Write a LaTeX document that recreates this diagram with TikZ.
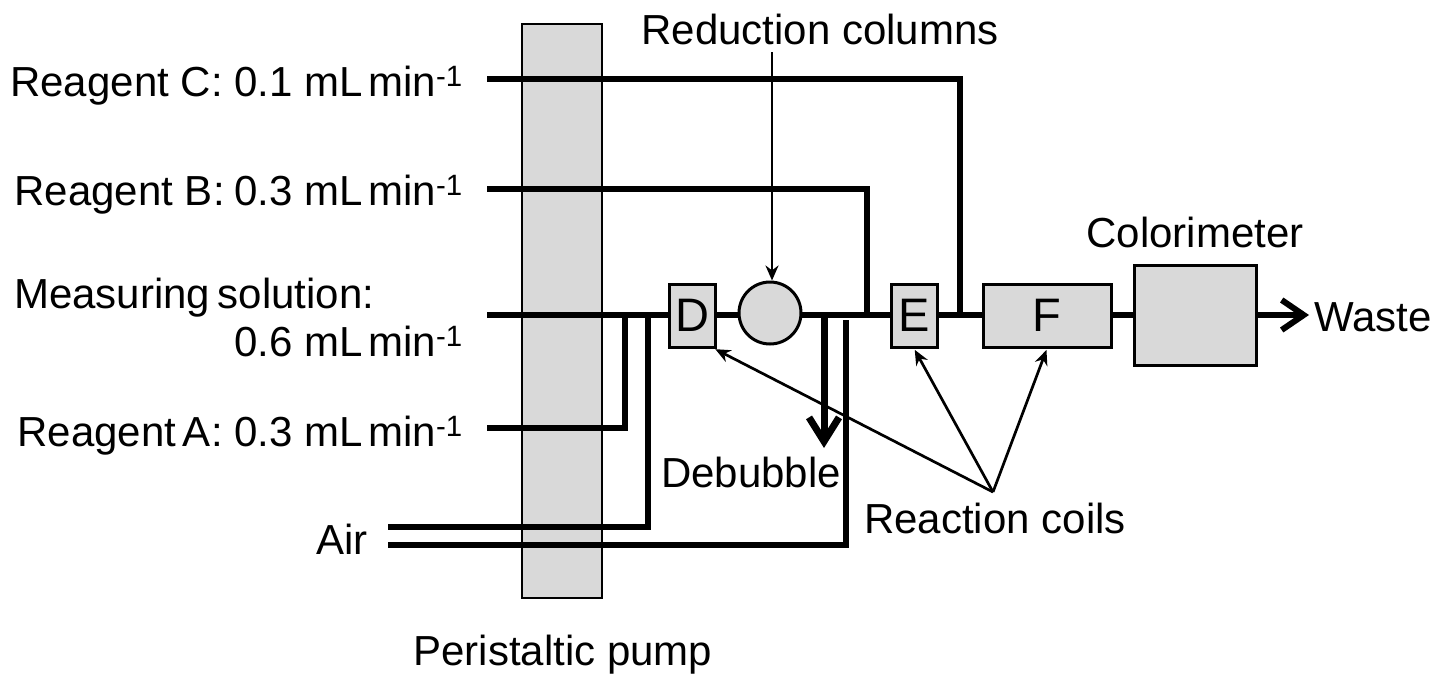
\documentclass[tikz,border=0pt]{standalone}
\usepackage{fontspec}
\setmainfont{Liberation Sans}
\usetikzlibrary{arrows.meta}
\definecolor{boxg}{RGB}{217,217,217}
\newcommand{\mlmin}[1]{#1 mL\hspace{-6pt} min\textsuperscript{-1}}
\tikzset{
  px/.style={x=1pt,y=-1pt},
  pipe/.style={line width=6pt,black},
  thin arrow/.style={line width=2.7pt,shorten >=1.5pt,-{Stealth[length=15pt,width=13pt]}},
  unit/.style={draw=black,line width=3pt,fill=boxg,inner sep=0pt,font=\fontsize{47}{47}\selectfont},
  lbl/.style={font=\fontsize{42}{44}\selectfont,inner sep=0pt,text=black},
  ll/.style={lbl,anchor=base east},
}
\begin{document}
\begin{tikzpicture}[px]
\useasboundingbox (0,0) rectangle (1437,673);
\node[draw=black,line width=2pt,fill=boxg,minimum width=80pt,minimum height=574pt,inner sep=0pt] (pump) at (562,311) {};
\node[lbl,anchor=base] (pl) at (563,665) {Peristaltic pump};
\coordinate (cS) at (487,79);
\coordinate (bS) at (487,189);
\coordinate (mS) at (487,315);
\coordinate (aS) at (487,428);
\coordinate (x1) at (388,527);
\coordinate (x2) at (388,545);
\coordinate (cJ) at (960,79);
\coordinate (bJ) at (867,189);
\coordinate (aJ) at (625,428);
\coordinate (x1J) at (648,527);
\coordinate (x2J) at (846,545);
\coordinate (x2E) at (846,320);
\draw[pipe] (mS) -- (1256,315);
\draw[pipe] (cS) -- (cJ) -- (960,315);
\draw[pipe] (bS) -- (bJ) -- (867,315);
\draw[pipe] (aS) -- (aJ) -- (625,315);
\draw[pipe] (x1) -- (x1J) -- (648,315);
\draw[pipe] (x2) -- (x2J) -- (x2E);
\draw[pipe,-{Straight Barb[length=22pt,width=30pt,line width=6pt]}] (1256,315) -- (1309,315);
\draw[line width=7pt,-{Straight Barb[length=24pt,width=30pt,line width=7pt]}] (824,315) -- (824,448);
\node[unit,minimum width=46pt,minimum height=63pt] (D) at (692.5,315.5) {D};
\node[circle,draw=black,line width=3pt,fill=boxg,minimum size=62pt,inner sep=0pt] (col) at (770,313) {};
\node[unit,minimum width=46pt,minimum height=63pt] (E) at (914,315.5) {E};
\node[unit,minimum width=128pt,minimum height=63pt] (F) at (1047,315.5) {F};
\node[unit,minimum width=122pt,minimum height=100pt] (CM) at (1195,315) {};
\node[lbl,anchor=base west] (W) at (1314,331) {Waste};
\node[ll] (lc) at (463,96) {Reagent C: \mlmin{0.1}};
\node[ll] (lb) at (463,205) {Reagent B:\hspace{-2pt} \mlmin{0.3}};
\node[lbl,anchor=base west] (lm) at (14,308) {Measuring\hspace{-4pt} solution:};
\node[ll] (lm2) at (463,356) {\mlmin{0.6}};
\node[ll] (la) at (463,446) {Reagent\hspace{-5pt} A: \mlmin{0.3}};
\node[lbl,anchor=base] (air) at (342,554) {Air};
\node[lbl,anchor=base] (rc) at (820,44) {Reduction columns};
\node[lbl,anchor=base] (col2) at (1195,247) {Colorimeter};
\node[lbl,anchor=base] (deb) at (751,487) {Debubble};
\node[lbl,anchor=base] (coils) at (995,533) {Reaction coils};
\coordinate (hub) at (993,492);
\coordinate (rcS) at (772,52);
\draw[thin arrow,shorten >=0pt] (rcS) -- (rcS |- col.north);
\draw[thin arrow] (hub) -- ([xshift=-3pt]D.south east);
\draw[thin arrow] (hub) -- (E.south);
\draw[thin arrow] (hub) -- (F.south);
\end{tikzpicture}
\end{document}
